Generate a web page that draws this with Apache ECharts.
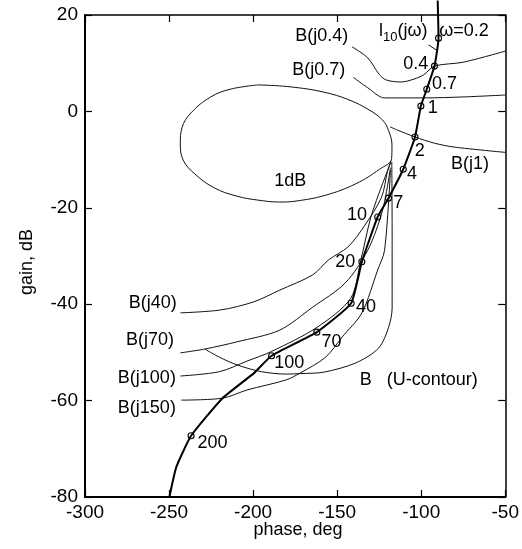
<!DOCTYPE html>
<html><head><meta charset="utf-8">
<script src="https://cdn.jsdelivr.net/npm/echarts@6.0.0/dist/echarts.min.js"></script>
<style>html,body{margin:0;padding:0;background:#fff}#c{width:522px;height:549px}</style>
</head><body><div id="c"></div>
<script>
// ---- axes ----
const phaseRange = [-300, -50], phaseStep = 50;
const gainRange = [-80, 20], gainStep = 20;

// ---- loop transmission L10(jw): [phase, gain] ----
const L10Path = [[-90.2,23],[-89.7,15.2],[-92.1,9.4],[-96.7,4.6],[-100.2,1.1],[-103.7,-5.3],[-110.7,-12.0],
  [-119.5,-18.0],[-125.9,-21.9],[-135.3,-31.2],[-141.7,-39.8],[-162.1,-45.8],[-189,-50.7],[-199.5,-54.3],
  [-218.2,-59.5],[-236.9,-67.3],[-245.7,-73.8],[-249.8,-80]];
const L10Freqs = ['0.2','0.4','0.7','1','2','4','7','10','20','40','70','100','200'];
const L10Marks = [[-89.7,15.2],[-92.1,9.4],[-96.7,4.6],[-100.2,1.1],[-103.7,-5.3],[-110.7,-12.0],[-119.5,-18.0],
  [-125.9,-21.9],[-135.3,-31.2],[-141.7,-39.8],[-162.1,-45.8],[-189,-50.7],[-236.9,-67.3]];
const L10Leader = [[-95.6,13.8],[-90.9,12.7]];

// ---- 1 dB closed contour ----
const contour1dB = [[-197,5.5],[-178,5.1],[-158,4.0],[-143,2.4],[-131,0.3],[-123,-1.8],[-119.5,-3.9],[-117.4,-7.0],
  [-117.6,-9.8],[-124.8,-12.0],[-138.8,-15.0],[-157,-17.4],[-174.4,-18.6],[-184.3,-18.8],[-197.2,-18.4],[-209.5,-17.6],
  [-222.9,-15.9],[-234.6,-13.0],[-241.6,-10.1],[-243.3,-6.6],[-242.3,-3.4],[-236.9,-0.3],[-225.2,3.0],[-213.6,4.6],[-197,5.5]];

// ---- bounds ----
const B04 = [[-141.1,13.4],[-131.8,11.1],[-124.8,7.6],[-120.7,6.5],[-111.9,6.1],[-104.3,6.7],[-98.5,7.6],[-92.1,9.4],[-75.1,10.2],[-50,12.5]];
const B07 = [[-140.5,7.1],[-131.8,4.9],[-121.8,2.8],[-98.5,2.8],[-75.1,3.0],[-50,3.4]];
const B1  = [[-118.5,-3.2],[-114,-3.9],[-103.7,-5.3],[-92.1,-6.6],[-80.4,-7.4],[-50,-8.5]];
const B40 = [[-243.3,-41.8],[-219.4,-41.2],[-199.5,-39.5],[-184.3,-37.1],[-164.5,-33.9],[-155.1,-30.8],[-143.5,-28.1],
  [-133.5,-23.6],[-123.6,-17.8],[-120.1,-12.5],[-118,-10.2]];
const B70 = [[-243.3,-50.1],[-228.7,-49.3],[-209.5,-47.8],[-184.3,-45.4],[-164.5,-40.6],[-145.2,-35.6],[-131.8,-28.8],
  [-123,-20.5],[-118.3,-11.7]];
const B100 = [[-243.3,-54.9],[-220,-54.0],[-203.6,-51.8],[-189,-49.8],[-162,-44.8],[-142,-38.8],[-136,-31],[-130,-22],
  [-123,-15],[-118,-10.5]];
const B150 = [[-242.8,-59.9],[-218.2,-59.5],[-203.6,-57.8],[-180.3,-55.7],[-172.1,-54.3],[-156.9,-51],[-147,-46.8],
  [-135.3,-41.8],[-125.9,-32.9],[-121.8,-28.8],[-118.3,-12.2]];
const UContour = [[-228.7,-49.3],[-220,-51],[-209.5,-52.6],[-195,-54],[-180.3,-54.5],[-172,-54.4],[-158,-54.1],
  [-139,-52.2],[-125.3,-49.1],[-119.5,-44.9],[-117.3,-40.8],[-117.3,-25],[-117.5,-10.5]];

// ---- text annotations: [text, phase, gain] ----
const curveLabels = [['B(j0.4)',-159.2,15.6],['B(j0.7)',-161.0,8.6],['B(j1)',-71.0,-10.9],['1dB',-177.9,-14.4],
  ['B(j40)',-259.7,-39.8],['B(j70)',-261.4,-47.4],['B(j100)',-263.2,-55.3],['B(j150)',-263.2,-61.5],
  ['B   (U-contour)',-101.5,-55.7]];
const freqLabels = [['ω=0.2',-74.5,16.7],['0.4',-103.2,9.8],['0.7',-86.2,5.7],['1',-93.2,0.7],['2',-100.8,-8.2],
  ['4',-105.5,-13.0],['7',-113.7,-19.0],['10',-138.2,-21.5],['20',-145.2,-31.2],['40',-132.9,-40.6],
  ['70',-153.4,-47.8],['100',-178.5,-52.2],['200',-224.1,-68.8]];
const loopLabel = ['l10(jω)',-110.7,16.3];

const FONT = "'Liberation Sans', Arial, sans-serif";
const INK = '#000';
const chart = echarts.init(document.getElementById('c'), null, {renderer:'canvas'});

function thin(data, smooth) {
  return {type:'line', data, symbol:'none', showSymbol:false, smooth: smooth===undefined?0.3:smooth,
    lineStyle:{color:'#111', width:1}, silent:true, animation:false, z:2};
}
function textSeries(items, size) {
  return {type:'scatter', symbolSize:0, silent:true, animation:false, z:5,
    itemStyle:{opacity:1},
    data: items.map(t => ({name:t[0], value:[t[1], t[2]]})),
    label:{show:true, position:'inside', formatter:'{b}', color:INK, opacity:1, fontSize:size, fontFamily:FONT}};
}
const axisCommon = (pos, isX) => ({
  type:'value', position:pos,
  min: isX ? phaseRange[0] : gainRange[0], max: isX ? phaseRange[1] : gainRange[1],
  interval: isX ? phaseStep : gainStep,
  axisLine:{show:true, onZero:false, lineStyle:{color:INK, width:(pos==='left'||pos==='bottom')?2:1.5}},
  axisTick:{show:true, inside:true, length:7, lineStyle:{color:INK, width:1.2}},
  splitLine:{show:false},
  axisLabel:{show: pos==='left'||pos==='bottom', color:INK, fontSize:19, fontFamily:FONT, margin: isX?6:7,
    formatter: v => String(v)}
});

const option = {
  backgroundColor:'#fff', animation:false,
  grid:{left:85, right:9, top:15, bottom:52, containLabel:false},
  xAxis:[axisCommon('bottom', true), axisCommon('top', true)],
  yAxis:[axisCommon('left', false), axisCommon('right', false)],
  graphic:[
    {type:'text', x:27, y:262, rotation:Math.PI/2,
     style:{text:'gain, dB', fill:INK, font:"18px "+FONT, textAlign:'center', textVerticalAlign:'middle'}},
    {type:'text', x:298, y:530,
     style:{text:'phase, deg', fill:INK, font:"18px "+FONT, textAlign:'center', textVerticalAlign:'middle'}}
  ],
  series:[
    thin(contour1dB, 0.4),
    thin(B04), thin(B07), thin(B1),
    thin(B40), thin(B70), thin(B100), thin(B150), thin(UContour),
    thin(L10Leader, false),
    {type:'line', data:L10Path, symbol:'none', showSymbol:false, smooth:0.15, clip:false,
     lineStyle:{color:INK, width:2}, silent:true, animation:false, z:3},
    {type:'scatter', data:L10Marks, symbol:'circle', symbolSize:6, silent:true, animation:false, z:4,
     itemStyle:{color:'rgba(255,255,255,0)', borderColor:INK, borderWidth:1.1, opacity:1}},
    textSeries(curveLabels, 18),
    textSeries(freqLabels, 18),
    {type:'scatter', symbolSize:0, silent:true, animation:false, z:5, itemStyle:{opacity:1},
     data:[{name:loopLabel[0], value:[loopLabel[1], loopLabel[2]]}],
     label:{show:true, position:'inside', color:INK, opacity:1, fontFamily:FONT,
       formatter:'{a|l}{s|10}{a|(jω)}',
       rich:{a:{fontSize:18, fontFamily:FONT, color:INK, lineHeight:22, verticalAlign:'top'},
             s:{fontSize:13, fontFamily:FONT, color:INK, lineHeight:22, verticalAlign:'bottom', padding:[6,0,0,0]}}}}
  ]
};
chart.setOption(option);
</script></body></html>
